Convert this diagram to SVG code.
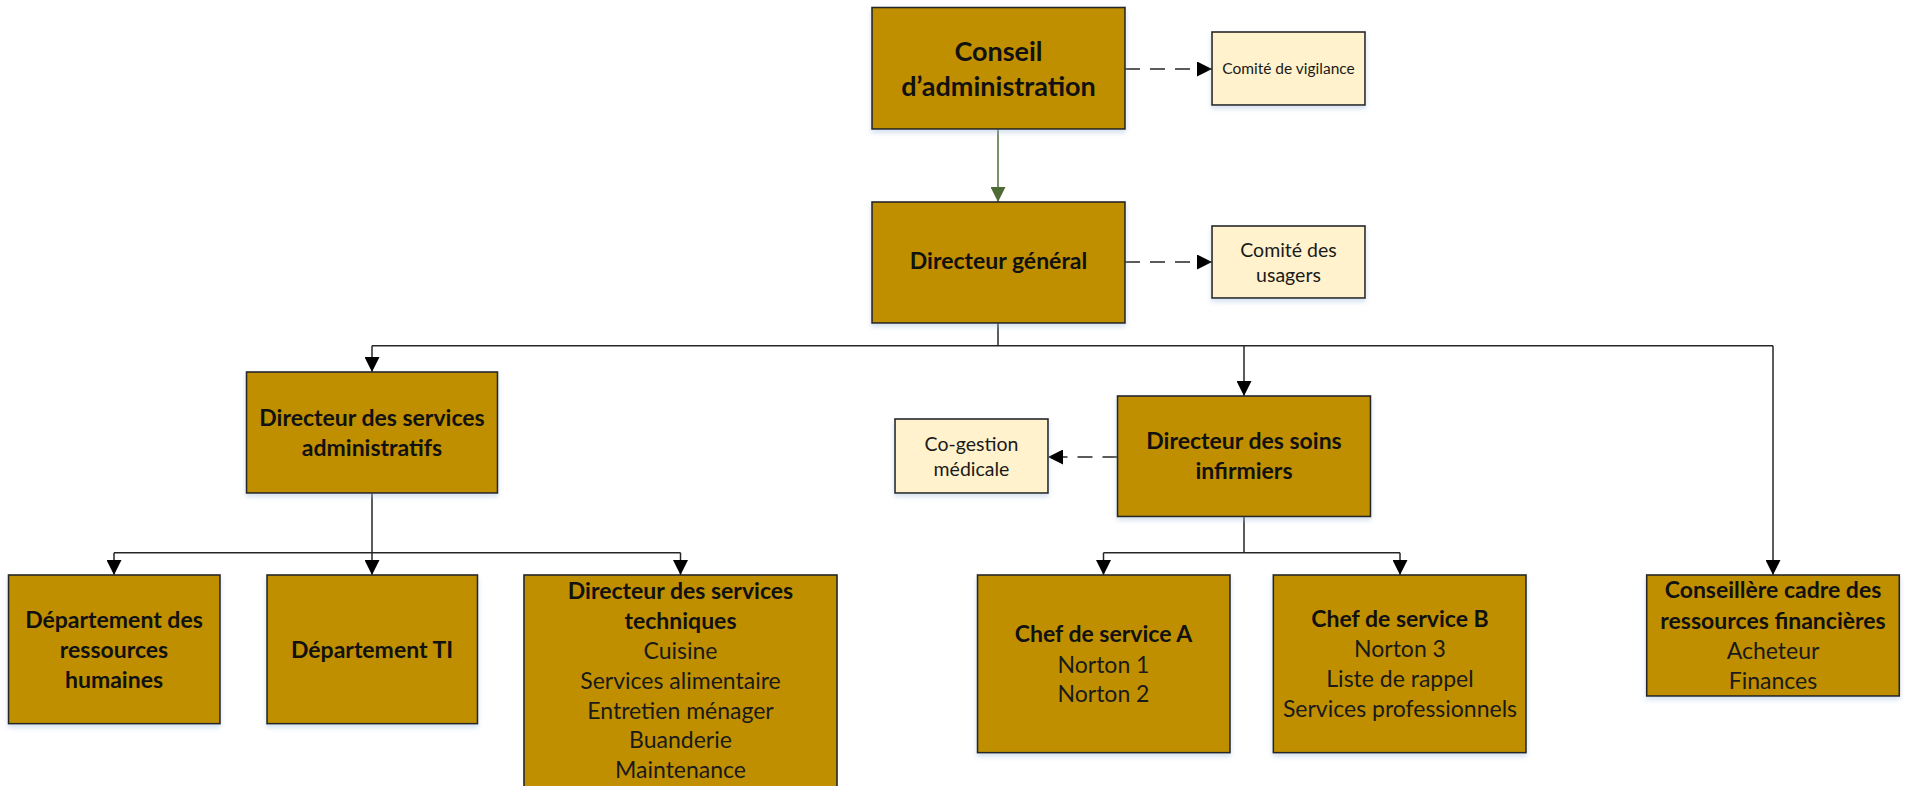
<svg xmlns="http://www.w3.org/2000/svg" width="1908" height="786" viewBox="0 0 1908 786">
<style>
.dark{fill:#BF8F00;stroke:#262626;stroke-width:1.6}
.light{fill:#FFF2CC;stroke:#262626;stroke-width:1.6}
.b{font-family:Lato,"Liberation Sans",sans-serif;font-weight:bold;fill:#111;text-anchor:middle}
.r{font-family:Lato,"Liberation Sans",sans-serif;font-weight:normal;fill:#1a1a1a;text-anchor:middle}
.m{font-size:23px}
.big{font-size:27px}
.s{font-size:19.5px}
.xs{font-size:15.5px}
.ln{fill:none;stroke:#262626;stroke-width:1.5}
.dash{fill:none;stroke:#262626;stroke-width:1.5;stroke-dasharray:15 10}
.green{fill:none;stroke:#4F6B35;stroke-width:1.5}
</style>
<defs>
<marker id="ah" markerUnits="userSpaceOnUse" markerWidth="15" markerHeight="15" viewBox="0 0 14 14" refX="14" refY="7" orient="auto">
<path d="M0,0 L14,7 L0,14 Z" fill="#000"/>
</marker>
<marker id="ahg" markerUnits="userSpaceOnUse" markerWidth="15" markerHeight="15" viewBox="0 0 14 14" refX="14" refY="7" orient="auto">
<path d="M0,0 L14,7 L0,14 Z" fill="#4F6B35"/>
</marker>
<filter id="sh" x="-10%" y="-10%" width="120%" height="130%">
<feDropShadow dx="0" dy="3" stdDeviation="2.5" flood-color="#9FBBDC" flood-opacity="0.45"/>
</filter>
</defs>
<rect width="1908" height="786" fill="#fff"/>

<g id="connectors">
<line class="green" x1="998" y1="129" x2="998" y2="202" marker-end="url(#ahg)"/>
<line class="dash" x1="1125" y1="69" x2="1212" y2="69" marker-end="url(#ah)"/>
<line class="dash" x1="1125" y1="262" x2="1212" y2="262" marker-end="url(#ah)"/>
<line class="dash" x1="1117.5" y1="457" x2="1048" y2="457" marker-end="url(#ah)"/>
<line class="ln" x1="998" y1="323" x2="998" y2="345.7"/>
<line class="ln" x1="372" y1="345.7" x2="1773" y2="345.7"/>
<line class="ln" x1="372" y1="345.7" x2="372" y2="372" marker-end="url(#ah)"/>
<line class="ln" x1="1244" y1="345.7" x2="1244" y2="396" marker-end="url(#ah)"/>
<line class="ln" x1="1773" y1="345.7" x2="1773" y2="575" marker-end="url(#ah)"/>
<line class="ln" x1="372" y1="493" x2="372" y2="552.7"/>
<line class="ln" x1="114" y1="552.7" x2="680.5" y2="552.7"/>
<line class="ln" x1="114" y1="552.7" x2="114" y2="575" marker-end="url(#ah)"/>
<line class="ln" x1="372" y1="552.7" x2="372" y2="575" marker-end="url(#ah)"/>
<line class="ln" x1="680.5" y1="552.7" x2="680.5" y2="575" marker-end="url(#ah)"/>
<line class="ln" x1="1244" y1="516.7" x2="1244" y2="552.7"/>
<line class="ln" x1="1103.5" y1="552.7" x2="1400" y2="552.7"/>
<line class="ln" x1="1103.5" y1="552.7" x2="1103.5" y2="575" marker-end="url(#ah)"/>
<line class="ln" x1="1400" y1="552.7" x2="1400" y2="575" marker-end="url(#ah)"/>
</g>

<g id="conseil">
<rect class="dark" x="872" y="7.5" width="253" height="121.5" filter="url(#sh)"/>
<text class="b big" x="998.5" y="61">Conseil</text>
<text class="b big" x="998.5" y="95.7">d’administration</text>
</g>
<g id="comite-vigilance">
<rect class="light" x="1212" y="32" width="153" height="73" filter="url(#sh)"/>
<text class="r xs" x="1288.5" y="74">Comité de vigilance</text>
</g>
<g id="directeur-general">
<rect class="dark" x="872" y="202" width="253" height="121" filter="url(#sh)"/>
<text class="b m" x="998.5" y="269.3">Directeur général</text>
</g>
<g id="comite-usagers">
<rect class="light" x="1212" y="226" width="153" height="72" filter="url(#sh)"/>
<text class="r s" x="1288.5" y="256.7">Comité des</text>
<text class="r s" x="1288.5" y="281.7">usagers</text>
</g>
<g id="dsa">
<rect class="dark" x="246.5" y="372" width="251" height="121" filter="url(#sh)"/>
<text class="b m" x="372" y="425.7">Directeur des services</text>
<text class="b m" x="372" y="456">administratifs</text>
</g>
<g id="dsi">
<rect class="dark" x="1117.5" y="396" width="253" height="120.5" filter="url(#sh)"/>
<text class="b m" x="1244" y="449">Directeur des soins</text>
<text class="b m" x="1244" y="479.3">infirmiers</text>
</g>
<g id="cogestion">
<rect class="light" x="895" y="419" width="153" height="74" filter="url(#sh)"/>
<text class="r s" x="971.5" y="451">Co-gestion</text>
<text class="r s" x="971.5" y="475.7">médicale</text>
</g>
<g id="dep-rh">
<rect class="dark" x="8.5" y="575" width="211.5" height="148.7" filter="url(#sh)"/>
<text class="b m" x="114" y="628">Département des</text>
<text class="b m" x="114" y="658">ressources</text>
<text class="b m" x="114" y="688">humaines</text>
</g>
<g id="dep-ti">
<rect class="dark" x="267" y="575" width="210.5" height="148.7" filter="url(#sh)"/>
<text class="b m" x="372" y="658">Département TI</text>
</g>
<g id="dst">
<rect class="dark" x="524" y="575" width="313" height="230"/>
<text class="b m" x="680.5" y="599.3">Directeur des services</text>
<text class="b m" x="680.5" y="629">techniques</text>
<text class="r m" x="680.5" y="659">Cuisine</text>
<text class="r m" x="680.5" y="689">Services alimentaire</text>
<text class="r m" x="680.5" y="718.5">Entretien ménager</text>
<text class="r m" x="680.5" y="748">Buanderie</text>
<text class="r m" x="680.5" y="777.7">Maintenance</text>
</g>
<g id="chef-a">
<rect class="dark" x="977.5" y="575" width="252.5" height="177.7" filter="url(#sh)"/>
<text class="b m" x="1103.5" y="641.7">Chef de service A</text>
<text class="r m" x="1103.5" y="672.7">Norton 1</text>
<text class="r m" x="1103.5" y="702.3">Norton 2</text>
</g>
<g id="chef-b">
<rect class="dark" x="1273.3" y="575" width="252.7" height="177.7" filter="url(#sh)"/>
<text class="b m" x="1400" y="627.3">Chef de service B</text>
<text class="r m" x="1400" y="657.3">Norton 3</text>
<text class="r m" x="1400" y="686.7">Liste de rappel</text>
<text class="r m" x="1400" y="716.7">Services professionnels</text>
</g>
<g id="conseillere">
<rect class="dark" x="1646.7" y="575" width="252.6" height="121" filter="url(#sh)"/>
<text class="b m" x="1773" y="598.3">Conseillère cadre des</text>
<text class="b m" x="1773" y="629">ressources financières</text>
<text class="r m" x="1773" y="659.3">Acheteur</text>
<text class="r m" x="1773" y="689.3">Finances</text>
</g>
</svg>
